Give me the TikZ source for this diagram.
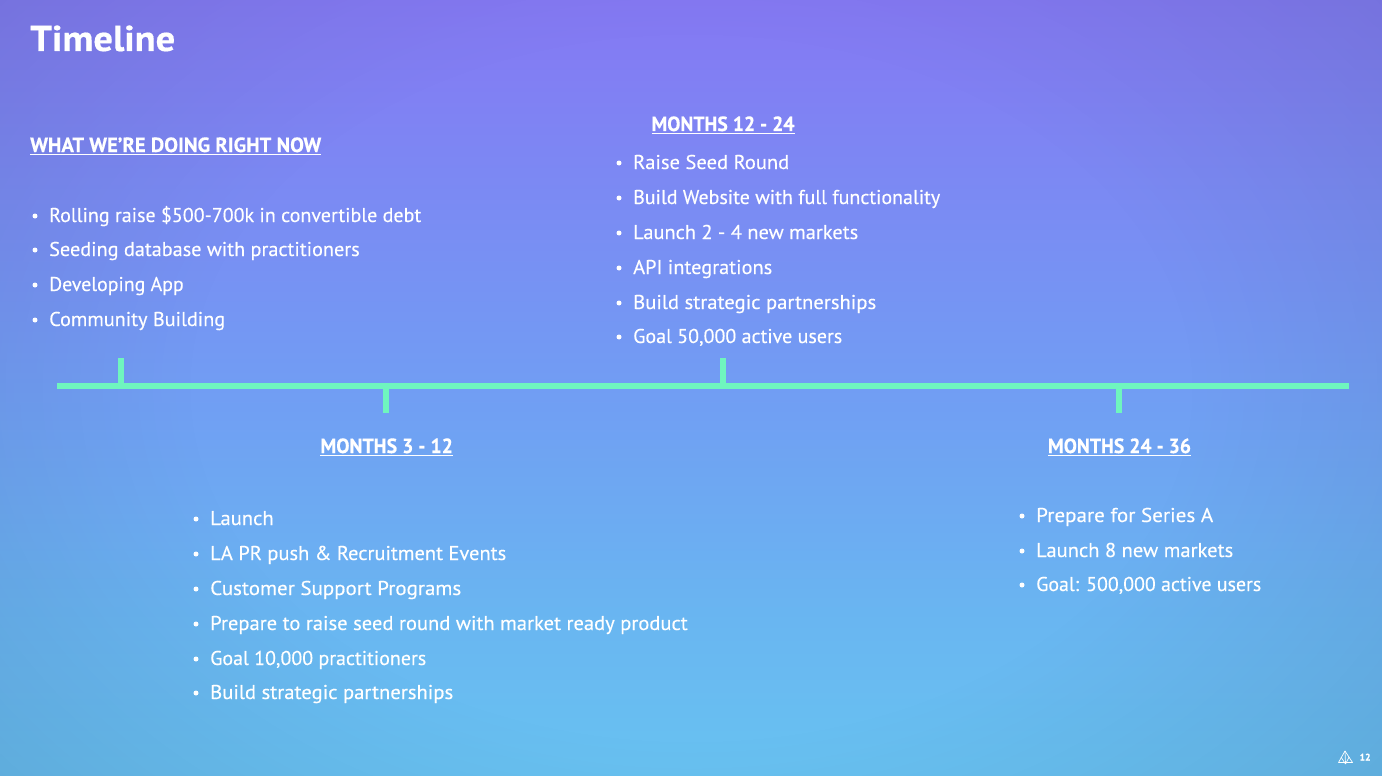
\documentclass[tikz,border=0pt]{standalone}
\usepackage{fontspec}
\usepackage{graphicx}
\setmainfont{PT Sans}
\newfontfamily\itemfont[FakeBold=0.25]{PT Sans}
\newfontfamily\headfont[FakeBold=0.4,BoldFont={PT Sans Bold}]{PT Sans Bold}
\usetikzlibrary{fadings}
\definecolor{bgbot}{HTML}{68C2F1}
\definecolor{bgbot2}{HTML}{69B6F1}
\definecolor{bgmid}{HTML}{719DF3}
\definecolor{bgup}{HTML}{7B8AF3}
\definecolor{bgtop}{HTML}{8578F3}
\definecolor{lineg}{HTML}{6FF5BE}
\definecolor{cornerc}{HTML}{3F5F90}
\pgfdeclareverticalshading{bgshade}{100bp}{
  color(0bp)=(bgbot);color(25bp)=(bgbot);color(35bp)=(bgbot2);color(50bp)=(bgmid);color(62.5bp)=(bgup);color(75bp)=(bgtop);color(100bp)=(bgtop)}
\pgfdeclareradialshading{cornershade}{\pgfpointorigin}{
  color(0bp)=(pgftransparent!100);color(12bp)=(pgftransparent!100);color(22bp)=(pgftransparent!0);color(50bp)=(pgftransparent!0)}
\pgfdeclarefading{cornerfade}{\pgfuseshading{cornershade}}
% #1 target width in pt, #2 text: the text is stretched horizontally to that width
\newcommand{\fitw}[2]{\resizebox{#1pt}{\height}{#2}}
\newcommand{\ulhead}[2]{\setbox0=\hbox{\fitw{#1}{#2}}\rlap{\rule[-3.2pt]{\wd0}{1.6pt}}\box0}
\tikzset{
  x=1pt,y=-1pt,
  item/.style={anchor=base west,inner sep=0pt,text=white,font=\fontsize{20}{24}\itemfont},
  dot/.style={circle,fill=white,inner sep=0pt,minimum size=5pt},
  heading/.style={anchor=base,inner sep=0pt,text=white,font=\fontsize{20.5}{24}\headfont},
  rail/.style={draw=lineg,line width=6pt},
  logoline/.style={draw=white,line width=.7pt,line join=round},
}
\newcommand{\bul}[6]{%
  \node[dot] (#1d) at (#2,#4-6) {};\node[item] (#1) at (#3,#4) {\fitw{#5}{#6}};}
\begin{document}
\begin{tikzpicture}
\useasboundingbox (0,0) rectangle (1382,776);
\clip (0,0) rectangle (1382,776);
\shade[shading=bgshade] (0,0) rectangle (1382,776);
\fill[cornerc,opacity=.22,path fading=cornerfade,fit fading=true] (-340,-340) rectangle (1722,1116);
% title
\node[anchor=base west,inner sep=0pt,text=white,font=\fontsize{36}{40}\headfont] (title) at (30,51) {\fitw{145}{Timeline}};
% timeline
\coordinate (railL) at (57,386.3);
\coordinate (railR) at (1349,386.3);
\coordinate (t1a) at (121,386.3);\coordinate (t1b) at (121,357.5);
\coordinate (t2a) at (386.4,386.3);\coordinate (t2b) at (386.4,412.7);
\coordinate (t3a) at (723,386.3);\coordinate (t3b) at (723,357.5);
\coordinate (t4a) at (1119.3,386.3);\coordinate (t4b) at (1119.3,412.7);
\draw[rail] (railL) -- (railR);
\draw[rail] (t1a) -- (t1b);
\draw[rail] (t2a) -- (t2b);
\draw[rail] (t3a) -- (t3b);
\draw[rail] (t4a) -- (t4b);
% now
\node[heading,anchor=base west] (h1) at (30,152) {\ulhead{291}{WHAT WE’RE DOING RIGHT NOW}};
\bul{a1}{35}{49}{222}{372}{Rolling raise \$500-700k in convertible debt}
\bul{a2}{35}{49}{256}{310.5}{Seeding database with practitioners}
\bul{a3}{35}{49}{291}{134.5}{Developing App}
\bul{a4}{35}{49}{326}{176}{Community Building}
% 12-24
\node[heading] (h3) at (723,131) {\ulhead{143}{MONTHS 12 - 24}};
\bul{b1}{619}{633}{169}{156}{Raise Seed Round}
\bul{b2}{619}{633}{204}{307}{Build Website with full functionality}
\bul{b3}{619}{633}{239}{225}{Launch 2 - 4 new markets}
\bul{b4}{619}{633}{274}{139}{API integrations}
\bul{b5}{619}{633}{309}{243}{Build strategic partnerships}
\bul{b6}{619}{633}{343}{209}{Goal 50,000 active users}
% 3-12
\node[heading] (h2) at (386.7,453) {\ulhead{132.5}{MONTHS 3 - 12}};
\bul{c1}{196}{210}{525}{63.5}{Launch}
\bul{c2}{196}{210}{560}{296}{LA PR push \& Recruitment Events}
\bul{c3}{196}{210}{595}{251}{Customer Support Programs}
\bul{c4}{196}{210}{630}{477.5}{Prepare to raise seed round with market ready product}
\bul{c5}{196}{210}{665}{216}{Goal 10,000 practitioners}
\bul{c6}{196}{210}{699}{243}{Build strategic partnerships}
% 24-36
\node[heading] (h4) at (1119.5,453) {\ulhead{143}{MONTHS 24 - 36}};
\bul{d1}{1022}{1036}{522}{177}{Prepare for Series A}
\bul{d2}{1022}{1036}{557}{197}{Launch 8 new markets}
\bul{d3}{1022}{1036}{591}{225}{Goal: 500,000 active users}
% footer logo and page number
\draw[logoline] (1345,751) -- (1338.5,762.5) -- (1352.5,762.5) -- cycle;
\draw[logoline] (1345,751) -- (1345.5,764) (1341,757) -- (1345.5,764) (1349,757) -- (1345.5,764);
\node[anchor=base west,inner sep=0pt,text=white,font=\fontsize{9.5}{10}\headfont] (pg) at (1359.5,760.5) {12};
\end{tikzpicture}
\end{document}
